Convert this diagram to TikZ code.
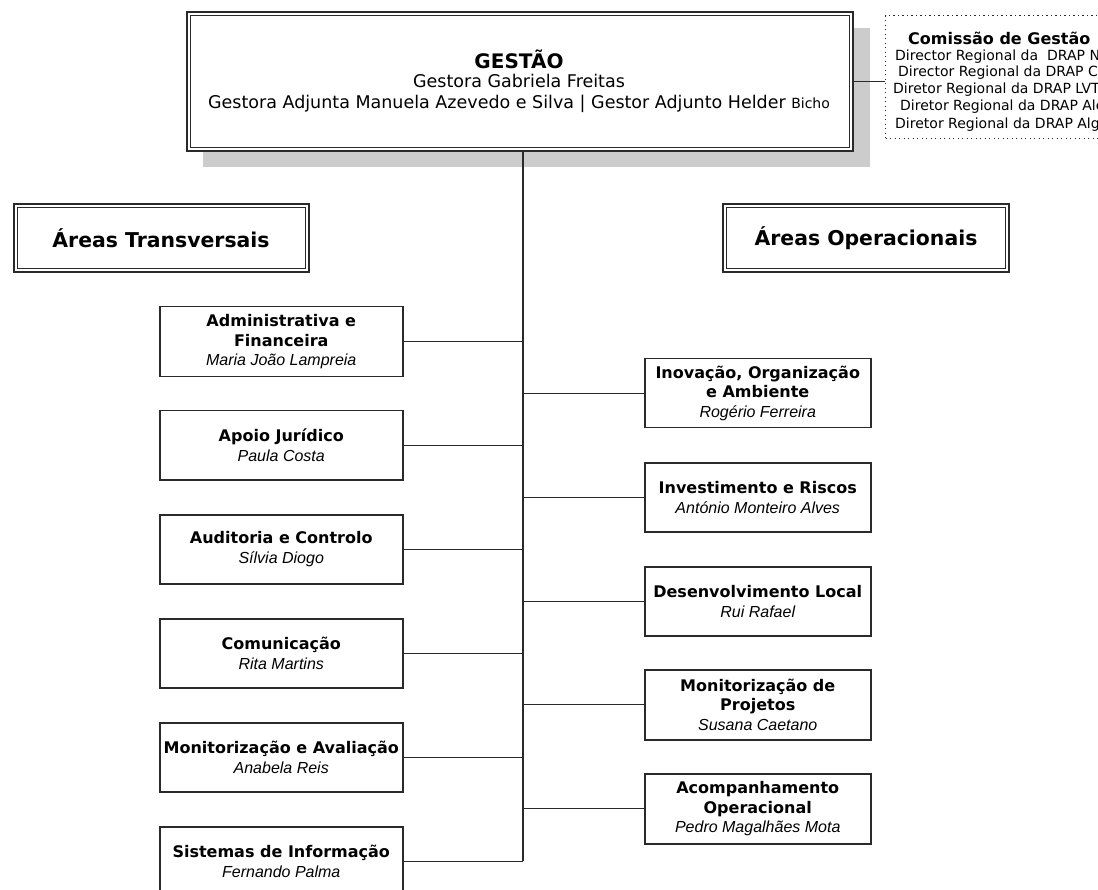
\documentclass[tikz,border=0pt]{standalone}
\usepackage{fontspec}
\setmainfont{DejaVu Sans}
\newfontfamily\namefont{Liberation Sans}
\newcommand\pname[1]{{\namefont\mdseries\itshape #1}}
\definecolor{boxline}{HTML}{2A2A2A}
\definecolor{shadowgray}{HTML}{CCCCCC}
\begin{document}
\begin{tikzpicture}[x=1pt,y=-1pt,
  box/.style={draw=boxline, line width=1.5pt, fill=white, minimum width=243pt, minimum height=69pt,
    align=center, inner sep=0pt, anchor=north west, font=\fontsize{16}{19.5}\selectfont\bfseries},
  rbox/.style={box, minimum width=226pt},
  hdr/.style={draw=boxline, line width=2pt, fill=white, minimum width=295pt, minimum height=68pt,
    inner sep=0pt, anchor=north west, font=\fontsize{20.4}{24}\selectfont\bfseries},
  link/.style={draw=boxline, line width=1.3pt},
  inner/.style={draw=boxline, line width=0.9pt},
  comline/.style={anchor=west, inner sep=0pt, font=\fontsize{14}{16}\selectfont},
  mline/.style={inner sep=0pt, font=\fontsize{17.5}{20}\selectfont}]
\useasboundingbox (0,0) rectangle (1098,890);
\clip (0,0) rectangle (1098,890);

% main box with shadow
\fill[shadowgray] (203,28) rectangle (870,167);
\node[draw=boxline, line width=2pt, fill=white, minimum width=666pt, minimum height=139pt,
  anchor=north west, inner sep=0pt] (gestao) at (186,11) {};
\draw[inner] ([shift={(4.5,4.5)}]gestao.north west) rectangle ([shift={(-4.5,-4.5)}]gestao.south east);
\node[mline, font=\fontsize{20}{22}\selectfont\bfseries] (g1) at (519,59) {GESTÃO};
\node[mline] (g2) at (519,81) {Gestora Gabriela Freitas};
\node[mline] (g3) at (519,103.5) {Gestora Adjunta Manuela Azevedo e Silva | Gestor Adjunto Helder {\fontsize{14}{16}\selectfont Bicho}};

% commission box
\node[draw=boxline, line width=1.2pt, dash pattern=on 1.2pt off 3.3pt, minimum width=240pt, minimum height=123pt,
  anchor=north west, inner sep=0pt] (com) at (885,15) {};
\node[anchor=west, inner sep=0pt, font=\fontsize{16}{18}\selectfont\bfseries] (c0) at (908,38) {Comissão de Gestão};
\node[comline] (c1) at (895,57) {Director Regional da\ \ DRAP Norte};
\node[comline] (c2) at (898,73) {Director Regional da DRAP Centro};
\node[comline] (c3) at (893,90) {Diretor Regional da DRAP LVT};
\node[comline] (c4) at (900,107) {Diretor Regional da DRAP Alentejo};
\node[comline] (c5) at (895,125) {Diretor Regional da DRAP Algarve};
\draw[link] (gestao.east) -- (gestao.east -| com.west);

% headers
\node[hdr] (atr) at (12.5,203) {Áreas Transversais};
\draw[inner] ([shift={(4.5,4.5)}]atr.north west) rectangle ([shift={(-4.5,-4.5)}]atr.south east);
\node[hdr, minimum width=286pt] (aop) at (722,203) {Áreas Operacionais};
\draw[inner] ([shift={(4.5,4.5)}]aop.north west) rectangle ([shift={(-4.5,-4.5)}]aop.south east);

% trunk
\coordinate (trunkbot) at (523,860.5);
\draw[link] (gestao.south -| trunkbot) -- (trunkbot);

% left column
\node[box, minimum height=70pt] (adm) at (159,306) {Administrativa e\\Financeira\\\pname{Maria João Lampreia}};
\node[box] (jur) at (159,410) {Apoio Jurídico\\\pname{Paula Costa}};
\node[box] (aud) at (159,514) {Auditoria e Controlo\\\pname{Sílvia Diogo}};
\node[box] (com2) at (159,618) {Comunicação\\\pname{Rita Martins}};
\node[box] (mav) at (159,722) {Monitorização e Avaliação\\\pname{Anabela Reis}};
\node[box] (sis) at (159,826) {Sistemas de Informação\\\pname{Fernando Palma}};

% right column
\node[rbox] (ino) at (644,358) {Inovação, Organização\\e Ambiente\\\pname{Rogério Ferreira}};
\node[rbox] (inv) at (644,462) {Investimento e Riscos\\\pname{António Monteiro Alves}};
\node[rbox] (des) at (644,566) {Desenvolvimento Local\\\pname{Rui Rafael}};
\node[rbox, minimum height=70pt] (mpj) at (644,669) {Monitorização de\\Projetos\\\pname{Susana Caetano}};
\node[rbox, minimum height=70pt] (aco) at (644,773) {Acompanhamento\\Operacional\\\pname{Pedro Magalhães Mota}};

% connectors
\foreach \n in {adm,jur,aud,com2,mav,sis}{
  \draw[link] (\n.east) -- (\n.east -| trunkbot);
}
\foreach \n in {ino,inv,des,mpj,aco}{
  \draw[link] (\n.west) -- (\n.west -| trunkbot);
}
\end{tikzpicture}
\end{document}
